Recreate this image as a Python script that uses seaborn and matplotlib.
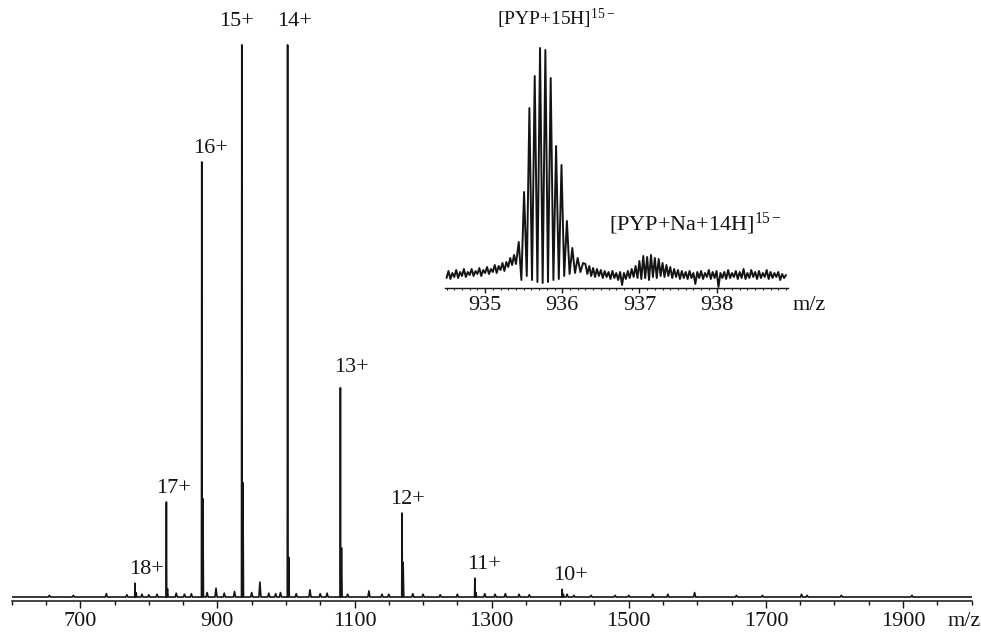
import numpy as np
import pandas as pd
import matplotlib
matplotlib.use("Agg")
import matplotlib.pyplot as plt
import seaborn as sns
from matplotlib.ticker import FixedLocator, MultipleLocator, NullLocator

# ---- charge-state envelope of the full spectrum (relative intensity, %) ----
charge_labels = ["18+", "17+", "16+", "15+", "14+", "13+", "12+", "11+", "10+"]
charge_mz = [779.8, 825.6, 877.2, 935.6, 1002.4, 1079.4, 1169.3, 1275.5, 1402.9]
charge_intensity = [2.5, 17.2, 78.8, 100.0, 100.0, 37.9, 15.2, 3.4, 1.4]
# sodium adduct shoulders sitting just above each charge state
adduct_intensity = [0.8, 1.5, 17.8, 20.7, 7.2, 8.9, 6.3, 0.8, 0.5]

# small background signals along the baseline
minor_mz = [655, 690, 738, 768, 790, 800, 812, 840, 852, 862, 885, 898, 910,
            925, 950, 962, 975, 985, 992, 1015, 1035, 1050, 1060, 1090, 1121,
            1140, 1150, 1185, 1200, 1225, 1250, 1290, 1305, 1320, 1340, 1355,
            1410, 1420, 1445, 1480, 1500, 1535, 1557, 1596, 1657, 1695, 1752,
            1760, 1810, 1913]
minor_intensity = [0.3, 0.3, 0.6, 0.4, 0.5, 0.4, 0.5, 0.7, 0.5, 0.6, 0.8, 1.6,
                   0.7, 1.0, 0.8, 2.7, 0.7, 0.6, 0.8, 0.6, 1.3, 0.6, 0.7, 0.5,
                   1.1, 0.5, 0.5, 0.6, 0.5, 0.4, 0.5, 0.6, 0.5, 0.6, 0.5, 0.4,
                   0.5, 0.3, 0.3, 0.3, 0.3, 0.5, 0.5, 0.8, 0.3, 0.3, 0.5, 0.3,
                   0.3, 0.3]

main_tick_labels = [700, 900, 1100, 1300, 1500, 1700, 1900]

# ---- zoom on the 15+ ion: isotope cluster and Na adduct (counts, a.u.) ----
inset_tick_labels = [935, 936, 937, 938]
inset_left_start = 934.50
inset_left = [10, 17, 9, 15, 11, 18, 10, 16, 12, 19, 11, 16, 13, 19, 12, 17,
              14, 20, 12, 18, 15, 21, 14, 19, 16, 23, 15, 22, 18, 25, 17, 26,
              21, 30, 23, 33]
inset_cluster_mz = [935.400, 935.436, 935.470, 935.505, 935.540, 935.574,
                    935.608, 935.643, 935.678, 935.712, 935.746, 935.781,
                    935.815, 935.850, 935.885, 935.920, 935.955, 935.990,
                    936.025, 936.060, 936.095, 936.130, 936.165, 936.200,
                    936.235, 936.270]
inset_cluster_int = [24, 46, 8, 96, 12, 180, 8, 212, 6, 240, 5, 238, 6, 210,
                     8, 142, 9, 123, 12, 67, 14, 40, 15, 30, 16, 25]
inset_right_start = 936.30
inset_right = [24, 14, 22, 12, 20, 11, 19, 12, 18, 10, 17, 11, 16, 9, 17, 10,
               15, 8, 16, 3, 15, 9, 17, 10, 19, 11, 22, 10, 27, 9, 32, 10,
               31, 8, 33, 11, 30, 10, 29, 12, 25, 11, 23, 12, 21, 10, 19, 11,
               18, 9, 17, 10, 16, 9, 17, 10, 15, 4, 16, 10, 17, 9, 15, 11, 18,
               9, 16, 10, 17, 1, 15, 10, 16, 9, 18, 10, 15, 11, 17, 9, 16, 10,
               19, 9, 15, 10, 18, 11, 16, 9, 17, 10, 15, 11, 18, 9, 16, 10, 15,
               11, 16, 8, 14, 10, 13]
inset_step = 0.025

# ---------------------------------------------------------------------------
sns.set_theme(style="ticks")
plt.rcParams["font.family"] = ["Liberation Serif", "DejaVu Serif"]
plt.rcParams["mathtext.fontset"] = "custom"
plt.rcParams["mathtext.rm"] = "Liberation Serif"
plt.rcParams["mathtext.it"] = "Liberation Serif:italic"
ink = "#141414"
fs = 16

# label placement (offset points from each peak apex)
label_offsets = {"18+": (8, 3), "17+": (5, 3), "16+": (6, 3), "15+": (-4, 10),
                 "14+": (5, 10), "13+": (8, 8), "12+": (4, 3), "11+": (7, 3),
                 "10+": (6, 3)}

# stick profile of the full spectrum
sticks = [(m, h, 0.45) for m, h in zip(charge_mz, charge_intensity)]
sticks += [(m + 1.6, h, 0.9) for m, h in zip(charge_mz, adduct_intensity)]
sticks += [(m, h, 1.5) for m, h in zip(minor_mz, minor_intensity)]
sticks.sort()
px, py = [600.0], [0.0]
for m, h, w in sticks:
    px += [m - w, m, m + w]
    py += [0.0, h, 0.0]
px.append(2000.0)
py.append(0.0)
main_df = pd.DataFrame({"mz": px, "intensity": py})

# inset profile
lx = inset_left_start + inset_step * np.arange(len(inset_left))
rx = inset_right_start + inset_step * np.arange(len(inset_right))
inset_df = pd.DataFrame({
    "mz": np.concatenate([lx, inset_cluster_mz, rx]),
    "counts": np.concatenate([inset_left, inset_cluster_int, inset_right]),
})

W, H = 981, 637
fig = plt.figure(figsize=(W / 100, H / 100), dpi=100)
fig.patch.set_facecolor("white")

# ---- main spectrum ----
ax = fig.add_axes([11.7 / W, 36.3 / H, 959.9 / W, 570.7 / H])
ax.set_facecolor("none")
sns.lineplot(data=main_df, x="mz", y="intensity", ax=ax, color=ink,
             linewidth=1.2, estimator=None, sort=False)
ax.set_xlim(600, 2000)
ax.set_ylim(-0.67, 102.7)
sns.despine(ax=ax, left=True)
ax.spines["bottom"].set_linewidth(1.1)
ax.spines["bottom"].set_color(ink)
ax.yaxis.set_major_locator(NullLocator())
ax.xaxis.set_major_locator(FixedLocator(main_tick_labels))
ax.xaxis.set_minor_locator(MultipleLocator(50))
ax.tick_params(axis="x", which="major", direction="out", length=5, width=1.0,
               color=ink, labelsize=fs, labelcolor=ink, pad=3)
ax.tick_params(axis="x", which="minor", direction="out", length=3, width=1.0,
               color=ink)
ax.set_xlabel("")
ax.set_ylabel("")
ax.annotate("m/z", xy=(1965, 0), xycoords=("data", "axes fraction"),
            xytext=(0, -8), textcoords="offset points", ha="left", va="top",
            fontsize=fs, color=ink)

for lab, m, h in zip(charge_labels, charge_mz, charge_intensity):
    ax.annotate(lab, xy=(m, h), xytext=label_offsets[lab],
                textcoords="offset points", ha="center", va="bottom",
                fontsize=fs, color=ink)

# ---- inset: 15+ isotope pattern ----
axi = fig.add_axes([445 / W, 349 / H, 343.3 / W, 250 / H])
axi.set_facecolor("none")
sns.lineplot(data=inset_df, x="mz", y="counts", ax=axi, color=ink,
             linewidth=1.4, estimator=None, sort=False)
axi.set_xlim(934.48, 938.93)
axi.set_ylim(0, 250)
sns.despine(ax=axi, left=True)
axi.spines["bottom"].set_linewidth(1.0)
axi.spines["bottom"].set_color(ink)
axi.yaxis.set_major_locator(NullLocator())
axi.xaxis.set_major_locator(FixedLocator(inset_tick_labels))
axi.xaxis.set_minor_locator(MultipleLocator(0.1))
axi.tick_params(axis="x", which="major", direction="out", length=3.5,
                width=1.0, color=ink, labelsize=fs, labelcolor=ink, pad=2)
axi.tick_params(axis="x", which="minor", direction="out", length=1.5,
                width=0.8, color=ink)
axi.set_xlabel("")
axi.set_ylabel("")
axi.annotate("m/z", xy=(938.98, 0), xycoords=("data", "axes fraction"),
             xytext=(0, -5.5), textcoords="offset points", ha="left",
             va="top", fontsize=fs, color=ink)

axi.text(935.155, 269, r"[PYP+15H]$^{\mathregular{15-}}$", ha="left",
         va="center", fontsize=fs - 2, color=ink)
axi.text(936.61, 64, r"[PYP+Na+14H]$^{\mathregular{15-}}$", ha="left",
         va="center", fontsize=fs, color=ink)

fig.savefig("out.png", dpi=100, facecolor="white")
